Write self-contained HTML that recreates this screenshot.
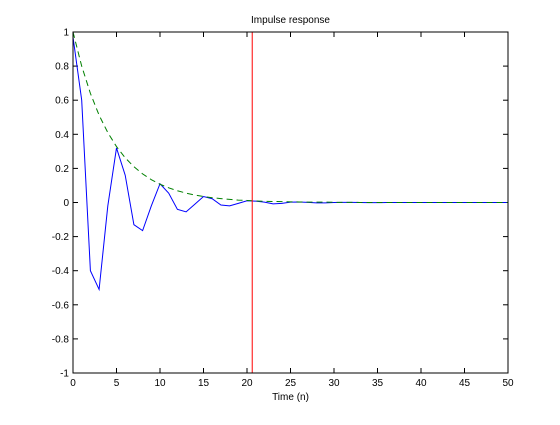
<!DOCTYPE html>
<html><head><meta charset="utf-8"><style>
body{margin:0;background:#fff;}
svg text{font-family:"Liberation Sans",sans-serif;font-size:10px;fill:#000;}
</style></head><body>
<svg id="chart" width="560" height="420" xmlns="http://www.w3.org/2000/svg">
<rect x="0" y="0" width="560" height="420" fill="#fff"/>
<g id="plot"></g>
</svg>
<script>
const xTicks=[0,5,10,15,20,25,30,35,40,45,50];
const yTicks=[-1,-0.8,-0.6,-0.4,-0.2,0,0.2,0.4,0.6,0.8,1];
const yTickLabels=["-1","-0.8","-0.6","-0.4","-0.2","0","0.2","0.4","0.6","0.8","1"];
const responseValues=[0.97,0.6,-0.4,-0.51,-0.02,0.32,0.16,-0.13,-0.165,-0.02,0.11,0.055,-0.04,-0.055,-0.01,0.035,0.022,-0.015,-0.02,-0.005,0.01,0.008,0.002,-0.008,-0.005,0.002,0.003,0.001,-0.002,-0.002,0,0.001,0.001,0,-0.001,-0.001,0,0,0,0,0,0,0,0,0,0,0,0,0,0,0];
const envelopeValues=[1,0.8,0.64,0.512,0.41,0.328,0.262,0.21,0.168,0.134,0.107,0.086,0.069,0.055,0.044,0.035,0.028,0.023,0.018,0.014,0.012,0.009,0.007,0.006,0.005,0.004,0.003,0.002,0.002,0.002,0.001,0.001,0.001,0,0,0,0,0,0,0,0,0,0,0,0,0,0,0,0,0,0];
const markerX=[20.6];
const L=73,R=508,T=32,B=373;
const xs=v=>L+(v-0)/(50-0)*(R-L);
const ys=v=>B-(v+1)/2*(B-T);
const NS="http://www.w3.org/2000/svg";
const g=document.getElementById('plot');
function mk(tag,attrs){const e=document.createElementNS(NS,tag);for(const k in attrs)e.setAttribute(k,attrs[k]);g.appendChild(e);return e;}
let ax=mk('rect',{x:L,y:T,width:R-L,height:B-T,fill:'#fff',stroke:'none'});


xTicks.forEach(t=>{
 const x=xs(t);
 let a=mk('line',{x1:x,y1:B,x2:x,y2:B-5,stroke:'#000','stroke-width':1});
 
 
 let b=mk('line',{x1:x,y1:T,x2:x,y2:T+5,stroke:'#000','stroke-width':1});
 
 
 let tx=mk('text',{x:x,y:B+13,'text-anchor':'middle'});tx.textContent=t;
 
 
});
yTicks.forEach((t,i)=>{
 const y=ys(t);
 let a=mk('line',{x1:L,y1:y,x2:L+5,y2:y,stroke:'#000','stroke-width':1});
 
 
 let b=mk('line',{x1:R,y1:y,x2:R-5,y2:y,stroke:'#000','stroke-width':1});
 
 
 let tx=mk('text',{x:L-4,y:y+3.5,'text-anchor':'end'});tx.textContent=yTickLabels[i];
 
 
});
let resp=mk('polyline',{points:responseValues.map((v,i)=>xs(i)+','+ys(v)).join(' '),fill:'none',stroke:'#0000ff','stroke-width':1});


let env=mk('polyline',{points:envelopeValues.map((v,i)=>xs(i)+','+ys(v)).join(' '),fill:'none',stroke:'#008000','stroke-width':1,'stroke-dasharray':'6,4'});


markerX.forEach(m=>{
 let r=mk('line',{x1:xs(m),y1:T,x2:xs(m),y2:B,stroke:'#ff0000','stroke-width':1});
 
 
});
let fr=mk('rect',{x:L,y:T,width:R-L,height:B-T,fill:'none',stroke:'#000','stroke-width':1});


let ti=mk('text',{x:(L+R)/2,y:23,'text-anchor':'middle'});ti.textContent='Impulse response';


let xl=mk('text',{x:(L+R)/2,y:400,'text-anchor':'middle'});xl.textContent='Time (n)';


</script>
</body></html>
